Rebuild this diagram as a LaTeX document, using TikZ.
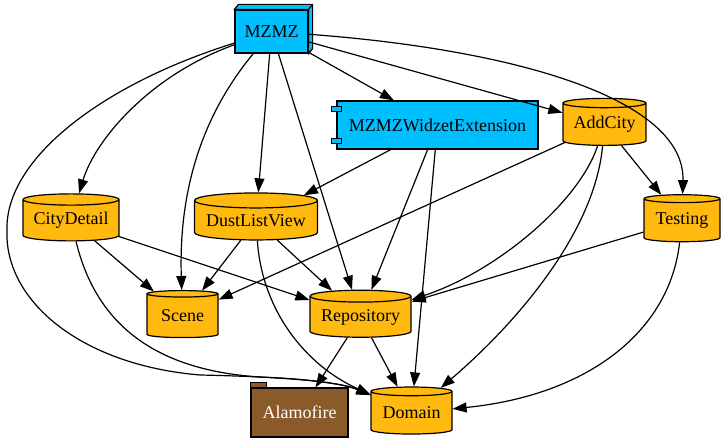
\documentclass[tikz,border=0pt]{standalone}
\usepackage{fontspec}
\setmainfont{Liberation Serif}
\newfontfamily\labelfont{Liberation Serif}
\usepackage{tikz}
\usetikzlibrary{arrows.meta,shapes.geometric}
\definecolor{skyblue}{HTML}{00BFFF}
\definecolor{gold}{HTML}{FFB90F}
\definecolor{tanbrown}{HTML}{8B5A2B}

\begin{document}
\begin{tikzpicture}[x=1pt,y=-1pt,line width=1.2pt,
    >={Triangle[length=14pt,width=10pt]},
    every node/.style={font=\labelfont\fontsize{18}{20}\selectfont,inner sep=0pt},
    app/.style={shape=rectangle,draw=black,fill=skyblue},
    module/.style={shape=cylinder,shape border rotate=90,aspect=0.15,draw=black,fill=gold,minimum height=47pt},
    lib/.style={shape=rectangle,draw=black,fill=tanbrown,text=white}]
    \useasboundingbox (0,0) rectangle (725,443);
    \node[app,minimum width=73pt,minimum height=43pt] (mzmz) at (271.5,31.5) {MZMZ};
    \draw[fill=skyblue] (mzmz.north west) -- ++(4,-5) -- ([xshift=4pt,yshift=5pt]mzmz.north east) -- ([xshift=4pt,yshift=5pt]mzmz.south east) -- (mzmz.south east) -- (mzmz.north east) -- cycle;
    \draw (mzmz.north east) -- ++(4,-5);
     \node[app,minimum width=201pt,minimum height=48pt] (ext) at (437.5,125) {MZMZWidzetExtension};
     \draw[fill=skyblue] (ext.north west) ++(-5,6) rectangle ++(10,5);
     \draw[fill=skyblue] (ext.south west) ++(-5,-11) rectangle ++(10,5);
      \node[module,minimum width=83pt] (addcity) at (604.5,124.5) {AddCity};
      \node[module,minimum width=96pt] (citydetail) at (71,220.5) {CityDetail};
      \node[module,minimum width=123pt] (dustlist) at (256,220.5) {DustListView};
      \node[module,minimum width=76pt] (testing) at (682,220.5) {Testing};
      \node[module,minimum width=71pt] (scene) at (182.5,316) {Scene};
      \node[module,minimum width=101pt] (repository) at (360.5,317) {Repository};
      \node[module,minimum width=81pt] (domain) at (411.5,413) {Domain};
    \node[lib,minimum width=97pt,minimum height=49pt] (alamofire) at (299.5,412.5) {Alamofire};
    \draw[fill=tanbrown] (alamofire.north west) rectangle ++(16,-5);
    % edges from MZMZ
    \draw[->] (mzmz) .. controls (150,75) and (95,140) .. (citydetail);
    \draw[->] (mzmz) .. controls (100,85) and (5,160) .. (7,230) .. controls (4,300) and (80,365) .. (200,375) .. controls (290,377) and (340,382) .. (domain);
    \draw[->] (mzmz) .. controls (215,100) and (178,170) .. (scene);
    \path [->] (mzmz) edge (dustlist);
    \path [->] (mzmz) edge (repository);
    \path [->] (mzmz) edge (ext);
    \path [->] (mzmz) edge (addcity);
    \draw[->] (mzmz) .. controls (520,50) and (685,100) .. (testing);
    % edges from MZMZWidzetExtension
    \path [->] (ext) edge (dustlist);
    \path [->] (ext) edge (repository);
    \path [->] (ext) edge (domain);
    % edges from AddCity
    \path [->] (addcity) edge (scene);
    \draw[->] (addcity) .. controls (580,200) and (500,270) .. (repository);
    \draw[->] (addcity) .. controls (595,230) and (520,320) .. (domain);
    \path [->] (addcity) edge (testing);
    % edges from Testing
    \path [->] (testing) edge (repository);
    \draw[->] (testing) .. controls (670,330) and (590,395) .. (domain);
    % edges from CityDetail
    \path [->] (citydetail) edge (scene);
    \path [->] (citydetail) edge (repository);
    \draw[->] (citydetail) .. controls (95,320) and (150,370) .. (260,377) .. controls (310,379) and (345,384) .. (domain);
    % edges from DustListView
    \path [->] (dustlist) edge (scene);
    \path [->] (dustlist) edge (repository);
    \draw[->] (dustlist) .. controls (262,310) and (305,365) .. (domain);
    % edges from Repository
    \path [->] (repository) edge (alamofire);
    \path [->] (repository) edge (domain);
\end{tikzpicture}
\end{document}
